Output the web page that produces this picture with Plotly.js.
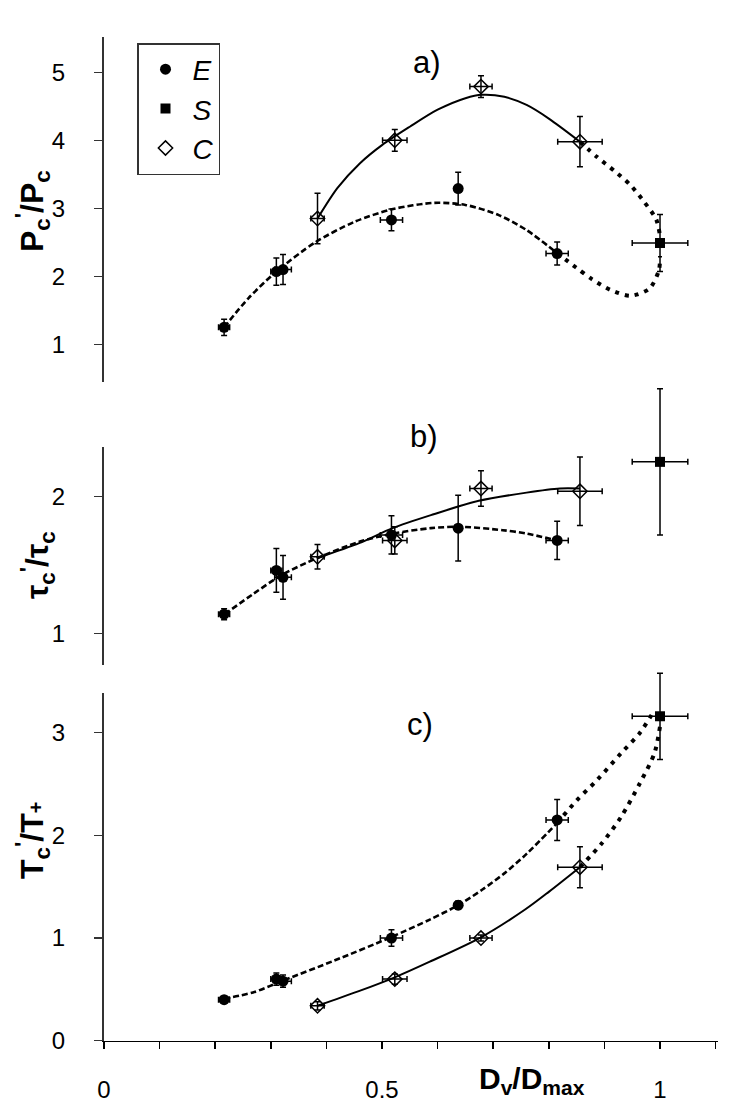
<!DOCTYPE html>
<html>
<head>
<meta charset="utf-8">
<script src="https://cdn.plot.ly/plotly-3.0.1.min.js"></script>
<style>html,body{margin:0;padding:0;background:#fff;}</style>
</head>
<body>
<div id="chart" style="width:750px;height:1107px;"></div>
<script>
// ---------- data (x = Dv/Dmax) ----------
const seriesNames = ['E', 'S', 'C'];

const eX    = [0.216, 0.31, 0.322, 0.517, 0.637, 0.815];
const eXErr = [0.01, 0.01, 0.015, 0.02, 0.006, 0.02];
const cX    = [0.384, 0.523, 0.678, 0.856];
const cXErr = [0.012, 0.022, 0.02, 0.04];
const sX    = [1.0];
const sXErr = [0.05];

// panel a) Pc'/Pc
const aE = [1.25, 2.07, 2.1, 2.83, 3.29, 2.335];
const aEErr = [0.12, 0.2, 0.22, 0.16, 0.24, 0.17];
const aC = [2.85, 4.0, 4.79, 3.98];
const aCErr = [0.37, 0.16, 0.16, 0.37];
const aS = [2.49];
const aSErr = [0.42];
const aEfitX = [0.216, 0.26, 0.31, 0.38, 0.45, 0.52, 0.594, 0.65, 0.71, 0.76, 0.815];
const aEfitY = [1.25, 1.68, 2.07, 2.5, 2.8, 2.99, 3.08, 3.05, 2.9, 2.68, 2.34];
const aEextX = [0.815, 0.849, 0.878, 0.911, 0.947, 0.981, 0.998, 1.0];
const aEextY = [2.34, 2.13, 1.955, 1.8, 1.715, 1.82, 2.09, 2.3];
const aCfitX = [0.384, 0.42, 0.46, 0.5, 0.55, 0.6, 0.65, 0.68, 0.72, 0.76, 0.8, 0.856];
const aCfitY = [2.85, 3.3, 3.66, 3.93, 4.2, 4.45, 4.62, 4.67, 4.64, 4.52, 4.32, 3.98];
const aCextX = [0.856, 0.886, 0.918, 0.947, 0.971, 0.993, 1.0];
const aCextY = [3.98, 3.76, 3.55, 3.34, 3.1, 2.84, 2.6];

// panel b) tau_c'/tau_c
const bE = [1.14, 1.46, 1.41, 1.72, 1.77, 1.68];
const bEErr = [0.04, 0.16, 0.16, 0.14, 0.24, 0.14];
const bC = [1.56, 1.68, 2.06, 2.04];
const bCErr = [0.09, 0.1, 0.13, 0.25];
const bS = [2.255];
const bSErr = [0.535];
const bEfitX = [0.217, 0.269, 0.321, 0.383, 0.459, 0.519, 0.588, 0.64, 0.717, 0.76, 0.815];
const bEfitY = [1.14, 1.29, 1.43, 1.55, 1.67, 1.73, 1.77, 1.78, 1.755, 1.73, 1.68];
const bCfitX = [0.383, 0.459, 0.519, 0.588, 0.674, 0.76, 0.82, 0.856];
const bCfitY = [1.55, 1.66, 1.77, 1.865, 1.97, 2.03, 2.06, 2.06];

// panel c) Tc'/T+
const cE = [0.4, 0.6, 0.58, 1.0, 1.32, 2.15];
const cEErr = [0.03, 0.06, 0.06, 0.08, 0.04, 0.2];
const cC = [0.34, 0.6, 1.0, 1.69];
const cCErr = [0.04, 0.05, 0.03, 0.2];
const cS = [3.16];
const cSErr = [0.42];
const cEfitX = [0.216, 0.268, 0.324, 0.414, 0.517, 0.586, 0.637, 0.68, 0.72, 0.76, 0.815];
const cEfitY = [0.41, 0.47, 0.59, 0.78, 1.01, 1.18, 1.32, 1.47, 1.63, 1.82, 2.12];
const cEextX = [0.815, 0.85, 0.887, 0.93, 0.964, 0.99];
const cEextY = [2.12, 2.34, 2.54, 2.8, 3.0, 3.22];
const cCfitX = [0.384, 0.457, 0.524, 0.586, 0.679, 0.758, 0.8, 0.856];
const cCfitY = [0.34, 0.48, 0.62, 0.77, 1.01, 1.28, 1.45, 1.69];
const cCextX = [0.856, 0.895, 0.93, 0.964, 0.99, 1.0];
const cCextY = [1.69, 1.92, 2.18, 2.51, 2.8, 3.06];

const xTickVals = [0, 0.5, 1];
const xTickText = ['0', '0.5', '1'];
const aTicks = [1, 2, 3, 4, 5];
const bTicks = [1, 2];
const cTicks = [0, 1, 2, 3];

// ---------- styling helpers ----------
const FONT = 'Liberation Sans, Arial, Helvetica, sans-serif';
const W = 750, H = 1107, ML = 104, MR = 32;
const px = p => (p - ML) / (W - ML - MR);
const py = p => 1 - p / H;

function curve(x, y, ya, kind) {
  const line = {color: '#000', shape: 'spline', smoothing: 0.8};
  if (kind === 'solid') { line.width = 2; }
  else if (kind === 'dash') { line.width = 2.6; line.dash = '6px,3px'; }
  else { line.width = 4; line.dash = '4px,6px'; }
  return {type: 'scatter', mode: 'lines', x: x, y: y, xaxis: 'x', yaxis: ya,
          line: line, showlegend: false, hoverinfo: 'skip'};
}
function err(arr) {
  return {type: 'data', array: arr, visible: true, color: '#000', thickness: 1.5, width: 3};
}
const markerStyle = {
  E: {symbol: 'circle', size: 11, color: '#000', line: {color: '#000', width: 0}},
  S: {symbol: 'square', size: 10, color: '#000', line: {color: '#000', width: 0}},
  C: {symbol: 'diamond-open', size: 11, color: '#000', line: {color: '#000', width: 1.5}}
};
function pts(name, x, xe, y, ye, ya, leg, rank) {
  return {type: 'scatter', mode: 'markers', name: name, x: x, y: y, xaxis: 'x', yaxis: ya,
          error_x: err(xe), error_y: err(ye), marker: markerStyle[name],
          cliponaxis: false, showlegend: leg, legendrank: rank};
}

const data = [
  curve(aEfitX, aEfitY, 'y2', 'dash'), curve(aEextX, aEextY, 'y2', 'dot'),
  curve(aCfitX, aCfitY, 'y2', 'solid'), curve(aCextX, aCextY, 'y2', 'dot'),
  curve(bEfitX, bEfitY, 'y3', 'dash'), curve(bCfitX, bCfitY, 'y3', 'solid'),
  curve(cEfitX, cEfitY, 'y', 'dash'), curve(cEextX, cEextY, 'y', 'dot'),
  curve(cCfitX, cCfitY, 'y', 'solid'), curve(cCextX, cCextY, 'y', 'dot'),
  pts(seriesNames[0], eX, eXErr, aE, aEErr, 'y2', true, 1),
  pts(seriesNames[1], sX, sXErr, aS, aSErr, 'y2', true, 2),
  pts(seriesNames[2], cX, cXErr, aC, aCErr, 'y2', true, 3),
  pts(seriesNames[0], eX, eXErr, bE, bEErr, 'y3', false, 1),
  pts(seriesNames[1], sX, sXErr, bS, bSErr, 'y4', false, 2),
  pts(seriesNames[2], cX, cXErr, bC, bCErr, 'y3', false, 3),
  pts(seriesNames[0], eX, eXErr, cE, cEErr, 'y', false, 1),
  pts(seriesNames[1], sX, sXErr, cS, cSErr, 'y5', false, 2),
  pts(seriesNames[2], cX, cXErr, cC, cCErr, 'y', false, 3)
];

function yax(domain, range, ticks) {
  return {domain: domain, range: range, anchor: 'x', tickvals: ticks,
          ticktext: ticks.map(String), ticks: 'outside', ticklen: 8, tickwidth: 1.5,
          tickcolor: '#333', showline: true, linecolor: '#333', linewidth: 2,
          showgrid: false, zeroline: false, ticklabelstandoff: 24,
          tickfont: {family: FONT, size: 24, color: '#000'}};
}
// hidden axes with the same scale as panels b and c but a taller frame,
// so the long error bars of S are not cut at the panel top
function yaxHidden(domain, range) {
  return {domain: domain, range: range, anchor: 'x', visible: false,
          showgrid: false, zeroline: false, showline: false};
}

const ann = (text, x, y, size, opts) => Object.assign({
  text: text, xref: 'paper', yref: 'paper', x: px(x), y: py(y),
  xanchor: 'center', yanchor: 'middle', showarrow: false,
  font: {family: FONT, size: size, color: '#000'}
}, opts || {});

const layout = {
  width: W, height: H,
  margin: {l: ML, r: MR, t: 0, b: 0, pad: 0},
  paper_bgcolor: '#fff', plot_bgcolor: 'rgba(0,0,0,0)',
  font: {family: FONT, color: '#000'},
  showlegend: true,
  legend: {x: px(137), y: py(43), xanchor: 'left', yanchor: 'top',
           bgcolor: '#fff', bordercolor: '#333', borderwidth: 1.5,
           font: {family: FONT, size: 28, style: 'italic', color: '#000'},
           traceorder: 'normal', itemwidth: 44},
  xaxis: {domain: [0, 1], range: [0, 1.1043], anchor: 'y',
          tickvals: xTickVals, ticktext: xTickText, ticks: 'outside', ticklen: 7,
          tickwidth: 1.5, tickcolor: '#000', showline: true, linecolor: '#000', linewidth: 1.5,
          showgrid: false, zeroline: false, ticklabelstandoff: 20,
          minor: {tick0: 0, dtick: 0.1, ticks: 'outside', ticklen: 7, tickwidth: 1.5,
                  tickcolor: '#000', showgrid: false},
          tickfont: {family: FONT, size: 24, color: '#000'}},
  yaxis:  yax([py(1040.7), py(693.3)], [0, 3.384], cTicks),
  yaxis2: yax([py(382), py(36.7)], [0.446, 5.524], aTicks),
  yaxis3: yax([py(665), py(447)], [0.768, 2.364], bTicks),
  yaxis4: yaxHidden([py(665), py(370)], [0.768, 2.9275]),
  yaxis5: yaxHidden([py(1040.7), py(660)], [0, 3.708]),
  annotations: [
    ann('a)', 427, 62, 31),
    ann('b)', 424, 436, 31),
    ann('c)', 420, 724, 31),
    ann('<b>P<sub>c</sub><sup>\'</sup>/P<sub>c</sub></b>', 33, 211, 32, {textangle: -90}),
    ann('<b>τ<sub>c</sub><sup>\'</sup>/τ<sub>c</sub></b>', 37, 565, 32, {textangle: -90}),
    ann('<b>T<sub>c</sub><sup>\'</sup>/T<span style="font-size:20px">+</span></b>', 32, 841, 32, {textangle: -90}),
    ann('<b>D<sub>v</sub>/D<sub>max</sub></b>', 532, 1080, 30)
  ]
};

Plotly.newPlot('chart', data, layout, {staticPlot: true, displayModeBar: false});
</script>
</body>
</html>
